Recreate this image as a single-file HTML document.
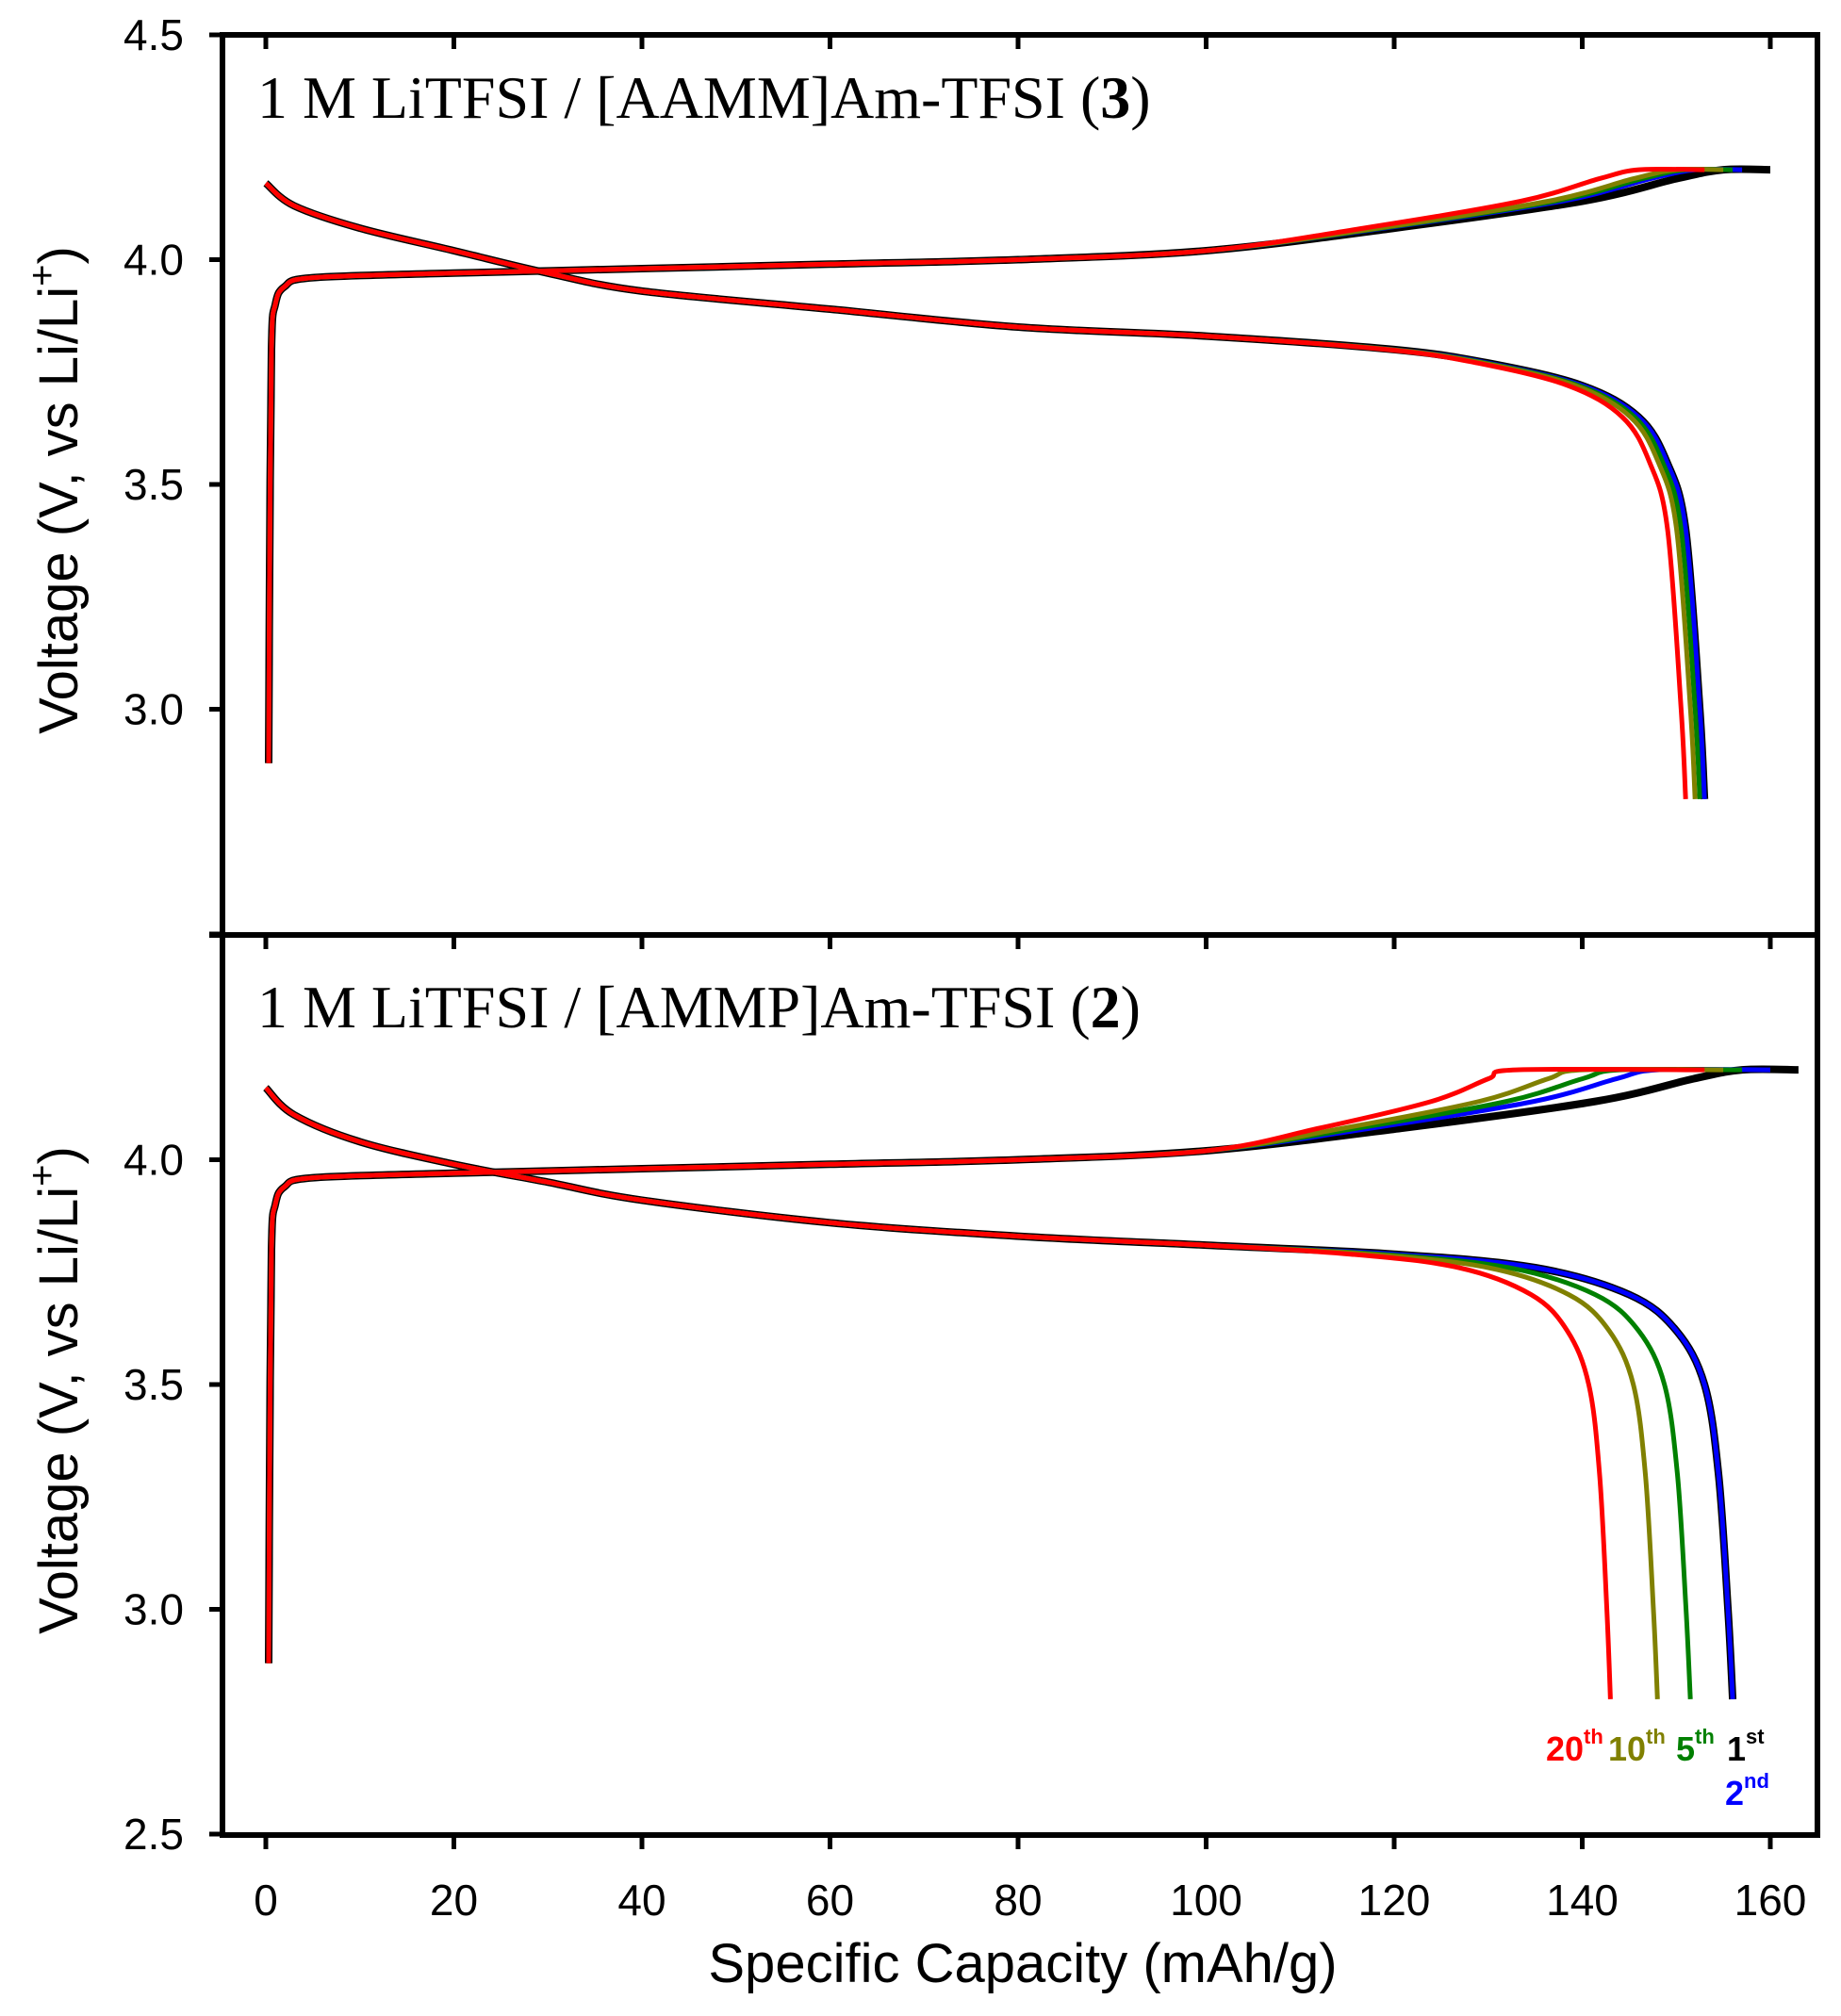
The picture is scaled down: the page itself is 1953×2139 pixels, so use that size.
<!DOCTYPE html>
<html><head><meta charset="utf-8"><style>
html,body{margin:0;padding:0;background:#fff}
svg{display:block}
</style></head><body>
<svg id="s" width="1953" height="2139" viewBox="0 0 1953 2139" xmlns="http://www.w3.org/2000/svg" font-family="Liberation Sans, sans-serif">
<rect width="1953" height="2139" fill="#fff"/>
<g id="curves"></g>
<g stroke="#000" stroke-width="6" fill="none">
<rect x="236" y="37" width="1692" height="1910"/>
<line x1="222" y1="992" x2="1928" y2="992"/>
</g>
<g id="ticks" stroke="#000" stroke-width="5"></g>
<g id="labels" font-size="46" fill="#000"></g>
<text x="273" y="125" font-family="Liberation Serif, serif" font-size="64">1 M LiTFSI / [AAMM]Am-TFSI (<tspan font-weight="bold">3</tspan>)</text>
<text x="273" y="1090" font-family="Liberation Serif, serif" font-size="64">1 M LiTFSI / [AMMP]Am-TFSI (<tspan font-weight="bold">2</tspan>)</text>
<text transform="translate(82,520) rotate(-90)" text-anchor="middle" font-size="58">Voltage (V, vs Li/Li<tspan font-size="40" dy="-24">+</tspan><tspan dy="24">)</tspan></text>
<text transform="translate(82,1475) rotate(-90)" text-anchor="middle" font-size="58">Voltage (V, vs Li/Li<tspan font-size="40" dy="-24">+</tspan><tspan dy="24">)</tspan></text>
<text x="1085" y="2103" text-anchor="middle" font-size="58">Specific Capacity (mAh/g)</text>
<g font-size="36" font-weight="bold">
<text x="1640" y="1868" fill="#f00">20<tspan font-size="22" dy="-18">th</tspan></text>
<text x="1706" y="1868" fill="#808000">10<tspan font-size="22" dy="-18">th</tspan></text>
<text x="1778" y="1868" fill="#008000">5<tspan font-size="22" dy="-18">th</tspan></text>
<text x="1832" y="1868" fill="#000">1<tspan font-size="22" dy="-18">st</tspan></text>
<text x="1830" y="1915" fill="#00f">2<tspan font-size="22" dy="-18">nd</tspan></text>
</g>
</svg>
<script>
var NS="http://www.w3.org/2000/svg";
function X(c){return 282+c*9.975;}
function Y(v,p){return (p?992:37)+(4.5-v)*477;}
function el(t,a,parent){var e=document.createElementNS(NS,t);for(var k in a)e.setAttribute(k,a[k]);parent.appendChild(e);return e;}
var tk=document.getElementById('ticks'),lb=document.getElementById('labels');
for(var i=0;i<=8;i++){var x=X(i*20);
 el('line',{x1:x,y1:37,x2:x,y2:52},tk);
 el('line',{x1:x,y1:992,x2:x,y2:1007},tk);
 el('line',{x1:x,y1:1947,x2:x,y2:1962},tk);
 var t=el('text',{x:x,y:2032,'text-anchor':'middle'},lb);t.textContent=String(i*20);}
[[0,[4.5,4.0,3.5,3.0]],[1,[4.0,3.5,3.0,2.5]]].forEach(function(pp){
 for(var v=2.5;v<=4.5;v+=0.5){var y=Y(v,pp[0]);el('line',{x1:222,y1:y,x2:236,y2:y},tk);}
 pp[1].forEach(function(v){var t=el('text',{x:195,y:Y(v,pp[0])+16,'text-anchor':'end'},lb);t.textContent=v.toFixed(1);});
});
var g=document.getElementById('curves');
function smooth(pts){ // catmull-rom to cubic path
 var d='M'+pts[0][0].toFixed(1)+','+pts[0][1].toFixed(1);
 for(var i=0;i<pts.length-1;i++){
  var p0=pts[i-1]||pts[i],p1=pts[i],p2=pts[i+1],p3=pts[i+2]||p2;
  var c1=[p1[0]+(p2[0]-p0[0])/6,p1[1]+(p2[1]-p0[1])/6],c2=[p2[0]-(p3[0]-p1[0])/6,p2[1]-(p3[1]-p1[1])/6];
  d+=' C'+c1[0].toFixed(1)+','+c1[1].toFixed(1)+' '+c2[0].toFixed(1)+','+c2[1].toFixed(1)+' '+p2[0].toFixed(1)+','+p2[1].toFixed(1);
 }return d;}
function draw(pts,p,col,w){
 el('path',{d:smooth(pts.map(function(q){return [X(q[0]),Y(q[1],p)];})),fill:'none',stroke:col,'stroke-width':w,'stroke-linejoin':'round'},g);}
var chg=[[0.3,2.88],[0.4,3.3],[0.6,3.8],[1,3.9],[2,3.94],[5,3.96],[20,3.97],[40,3.98],[60,3.99],[80,4.0],[100,4.02],[120,4.07],[140,4.13],[150,4.18],[155,4.2],[160,4.2]];
var disT=[[0,4.17],[3,4.12],[10,4.07],[20,4.02],[30,3.97],[40,3.93],[60,3.89],[80,3.85],[100,3.83],[120,3.80],[130,3.77],[140,3.72],[146,3.65],[149,3.55],[151,3.4],[152.5,3.0],[153,2.8]];
var disB=[[0,4.16],[3,4.1],[10,4.04],[20,3.99],[30,3.95],[40,3.91],[60,3.86],[80,3.83],[100,3.81],[120,3.79],[135,3.76],[145,3.70],[150,3.62],[153,3.5],[154.5,3.3],[155.5,3.0],[156,2.8]];
function disPts(pts,base,Q){return pts.map(function(q){var c=q[0];if(c>100)c=100+(c-100)*(Q-100)/(base-100);return [c,q[1]];});}
function chargePts(end42,endAll){
 return chg.map(function(q){var c=q[0];if(c>100)c=100+(c-100)*(end42-100)/55;if(q[0]==160)c=endAll;return [c,q[1]];});}
var cols=['#000','#00f','#008000','#808000','#f00'],ws=[8,5,5,5,5];
var topD=[153,153,152.5,152,151],topC=[160,157,156,155,153],topC42=[155,152,151,150,146];
var botD=[156,156,151.5,148,143],botC=[163,160,157,155,153],botC42=[157,148,144,140,133];
[0,1].forEach(function(p){
 var D=p?botD:topD,C=p?botC:topC,C4=p?botC42:topC42,base=p?disB:disT,bq=p?156:153;
 for(var i=0;i<5;i++){
  draw(chargePts(C4[i],C[i]),p,cols[i],ws[i]);
  draw(disPts(base,bq,D[i]),p,cols[i],ws[i]);
 }
});
</script>
</body></html>
